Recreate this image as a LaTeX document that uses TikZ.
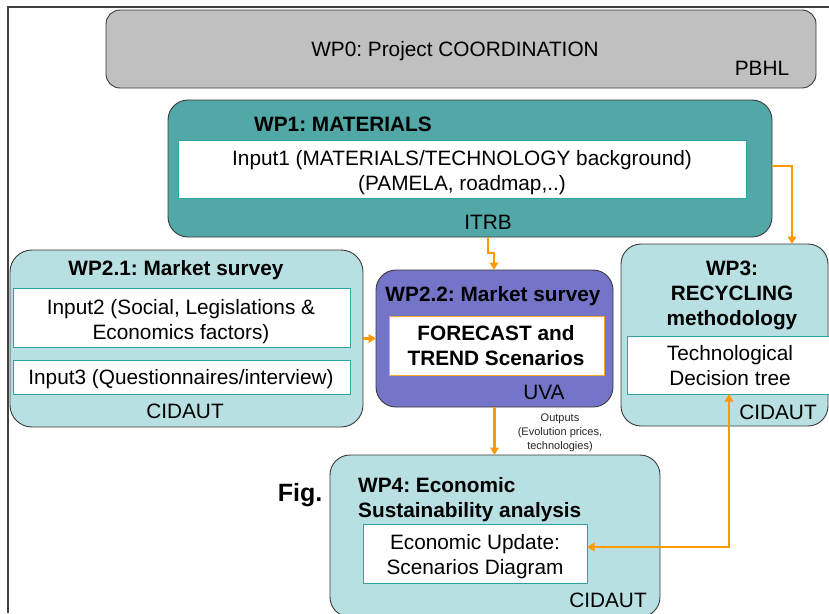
\documentclass[tikz,border=0pt]{standalone}
\usepackage{fontspec}
\setmainfont{Liberation Sans}
\usetikzlibrary{arrows.meta}
\definecolor{wpgray}{HTML}{C0C0C0}
\definecolor{wpteal}{HTML}{52A8A6}
\definecolor{wplight}{HTML}{B8E0E2}
\definecolor{wppurple}{HTML}{7474C8}
\definecolor{inteal}{HTML}{2EA3A3}
\definecolor{inorange}{HTML}{F5A623}
\definecolor{arrorange}{HTML}{FF9900}
\definecolor{edgegray}{HTML}{3A3A3A}
\definecolor{framegray}{HTML}{404040}
\frenchspacing
\begin{document}
\begin{tikzpicture}[x=1pt,y=-1pt,
  wpbox/.style={draw=edgegray, line width=0.9pt, rounded corners=20pt, anchor=north west, inner sep=0pt, outer sep=0pt},
  inbox/.style={draw=inteal, fill=white, line width=1pt, anchor=north west, inner sep=0pt, outer sep=0pt},
  txt/.style={font=\fontsize{20.8}{25}\selectfont, inner sep=0pt, align=center},
  btxt/.style={font=\fontsize{20.8}{25}\selectfont\bfseries, inner sep=0pt, align=center},
  smalltxt/.style={font=\fontsize{11}{14}\selectfont, inner sep=0pt, align=center, text=black!85},
  arr/.style={draw=arrorange, line width=2.2pt, -{Triangle[width=8.5pt,length=7.5pt]}},
  arrboth/.style={draw=arrorange, line width=2.2pt, {Triangle[width=8.5pt,length=7.5pt]}-{Triangle[width=8.5pt,length=7.5pt]}},
]
\useasboundingbox (0,0) rectangle (829,613);
\fill[white] (0,0) rectangle (829,613);

% frame
\coordinate (fr0) at (8,7);
\coordinate (fr1) at (829,7);
\coordinate (fr2) at (8,613);
\draw[framegray, line width=1.6pt] (fr1) -- (fr0) -- (fr2);

% WP0
\node[wpbox, fill=wpgray, rounded corners=14pt, minimum width=710pt, minimum height=78pt] (wp0) at (106,10) {};
\node[txt] (wp0t) at (455,51) {WP0: Project COORDINATION};
\node[txt] (wp0l) at (762,68) {PBHL};

% WP1
\node[wpbox, fill=wpteal, minimum width=604pt, minimum height=137pt] (wp1) at (168,100) {};
\node[inbox, minimum width=568pt, minimum height=58pt] (in1) at (178,140) {};
\node[btxt] (wp1t) at (343,124) {WP1: MATERIALS};
\node[txt] (in1t) at (462,172.5) {Input1 (MATERIALS/TECHNOLOGY background)\\(PAMELA, roadmap,..)};
\node[txt] (itrb) at (488,222) {ITRB};

% WP2.1
\node[wpbox, fill=wplight, rounded corners=22pt, minimum width=353pt, minimum height=177pt] (wp21) at (10,250) {};
\node[inbox, minimum width=337pt, minimum height=59pt] (in2) at (13,288) {};
\node[inbox, minimum width=337pt, minimum height=34pt] (in3) at (13,360) {};
\node[btxt] (wp21t) at (176,270) {WP2.1: Market survey};
\node[txt] (in2t) at (181,321.5) {Input2 (Social, Legislations \&\\Economics factors)};
\node[txt] (in3t) at (181,379) {Input3 (Questionnaires/interview)};
\node[txt] (wp21l) at (185,411) {CIDAUT};

% WP2.2
\node[wpbox, fill=wppurple, minimum width=237pt, minimum height=137pt] (wp22) at (376,270) {};
\node[inbox, draw=inorange, minimum width=215pt, minimum height=59pt] (in22) at (389,316) {};
\node[btxt] (wp22t) at (493,296) {WP2.2: Market survey};
\node[btxt] (in22t) at (496,346) {FORECAST and\\TREND Scenarios};
\node[txt] (uva) at (544,392) {UVA};

% WP3
\node[wpbox, fill=wplight, minimum width=207pt, minimum height=182pt] (wp3) at (621,244) {};
\node[inbox, minimum width=205pt, minimum height=58pt] (tdt) at (627,336) {};
\node[btxt] (wp3t) at (732,295) {WP3:\\RECYCLING\\methodology};
\node[txt] (tdtt) at (730,365.5) {Technological\\Decision tree};
\node[txt] (wp3l) at (778,412) {CIDAUT};

% WP4
\node[wpbox, fill=wplight, minimum width=330pt, minimum height=162pt] (wp4) at (330,455) {};
\node[inbox, minimum width=224pt, minimum height=59pt] (in4) at (363,524) {};
\node[btxt, align=left, anchor=west] (wp4t) at (358,499.5) {WP4: Economic\\Sustainability analysis};
\node[txt] (in4t) at (475,557) {Economic Update:\\Scenarios Diagram};
\node[txt] (wp4l) at (608,600) {CIDAUT};

% Fig.
\node[font=\fontsize{25}{30}\selectfont\bfseries, inner sep=0pt] (fig) at (300,494.6) {Fig.};

% Outputs label
\node[smalltxt] (outl) at (560,433) {Outputs\\(Evolution prices,\\technologies)};

% connectors
\coordinate (j1) at (494,253);
\draw[arr] (wp1.south -| itrb) |- (j1) -- (wp22.north -| j1);
\coordinate (j2) at (792,166);
\draw[arr] (wp1.east |- j2) -- (j2) -- (wp3.north -| j2);
\draw[arr] (wp21.east |- wp22.west) -- (wp22.west);
\draw[arr] (wp22.south) -- (wp22.south |- wp4.north);
\coordinate (j3) at (729,547);
\draw[arrboth] (in4.east |- j3) -- (j3) -- (tdt.south -| j3);
\end{tikzpicture}
\end{document}
